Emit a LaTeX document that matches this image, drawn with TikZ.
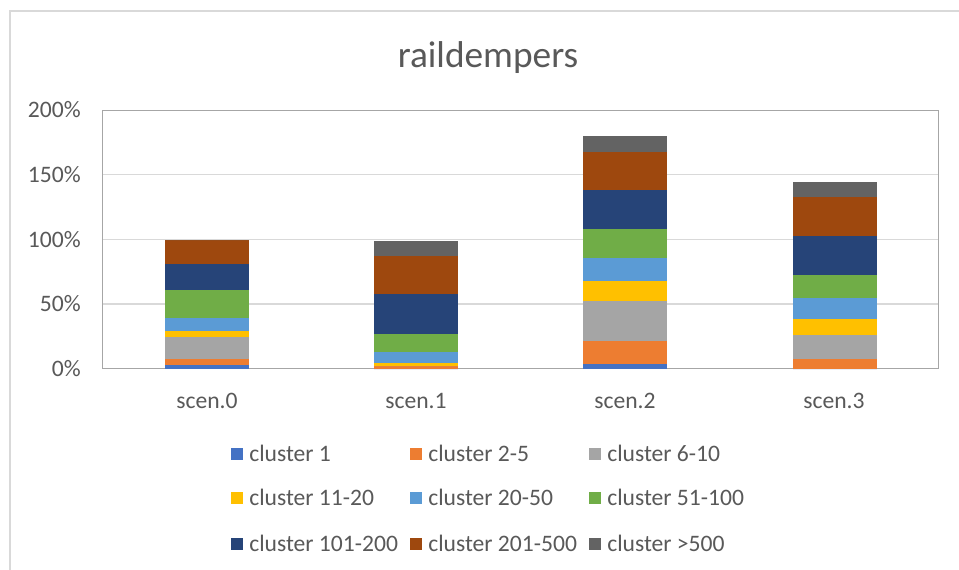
\documentclass[tikz,border=0pt]{standalone}
\usepackage{fontspec}
\setmainfont{Carlito}
\definecolor{c1}{HTML}{4472C4}
\definecolor{c2}{HTML}{ED7D31}
\definecolor{c3}{HTML}{A5A5A5}
\definecolor{c4}{HTML}{FFC000}
\definecolor{c5}{HTML}{5B9BD5}
\definecolor{c6}{HTML}{70AD47}
\definecolor{c7}{HTML}{264478}
\definecolor{c8}{HTML}{9E480E}
\definecolor{c9}{HTML}{636363}
\definecolor{txt}{HTML}{595959}
\definecolor{gridc}{HTML}{D9D9D9}
\definecolor{framec}{HTML}{A6A6A6}
\tikzset{
  lbl/.style={text=txt, inner sep=0pt, font=\fontsize{17.7}{20}\selectfont},
  ttl/.style={text=txt, inner sep=0pt, font=\fontsize{28}{32}\selectfont},
  gridline/.style={draw=gridc, line width=1.1pt},
  plotframe/.style={draw=framec, line width=1.1pt},
  chartframe/.style={draw=gridc, line width=1.5pt},
}
\begin{document}
\begin{tikzpicture}[x=0.75pt,y=-0.75pt]
\useasboundingbox (0,0) rectangle (959,570);
\fill[white] (0,0) rectangle (959,570);
% chart border
\draw[chartframe] (9.5,570) -- (9.5,11) -- (959,11);
% title
\node[ttl, anchor=base] (title) at (488,68) {raildempers};
% gridlines
\foreach \p in {50,100,150}
  \draw[gridline] (102.5,{368.5-1.2925*\p}) -- (938.5,{368.5-1.2925*\p});
\draw[plotframe] (102.5,110.5) rectangle (938.5,368.5);
% y labels
\foreach \p/\t in {0/0\%,50/50\%,100/100\%,150/150\%,200/200\%}
  \node[lbl, anchor=base east] (y\p) at (81,{368.5-1.2925*\p+7.8}) {\t};
% bars
\foreach \nm/\xl/\tops in {
  s0/165/{365.3,358.7,337.3,330.7,318,290,264.3,240,240},
  s1/374/{368.5,365.7,365.7,363,351.7,333.7,294,255.7,241.3},
  s2/583/{364.3,341,301.3,281,258,228.7,190,151.7,136},
  s3/793/{368.5,359.3,334.7,319.3,297.7,274.7,236.3,197.3,182.3}}{
  \foreach \t [count=\i, remember=\t as \prev (initially 368.5)] in \tops
    \fill[c\i] (\xl,\prev) rectangle (\xl+84,\t);
}
% x labels
\node[lbl, anchor=base] (x0) at (207,408) {scen.0};
\node[lbl, anchor=base] (x1) at (416,408) {scen.1};
\node[lbl, anchor=base] (x2) at (625,408) {scen.2};
\node[lbl, anchor=base] (x3) at (834,408) {scen.3};
% legend
\foreach \i/\cx/\cy/\t in {
  1/231/454/cluster 1, 2/410/454/cluster 2-5, 3/589/454/cluster 6-10,
  4/231/498/cluster 11-20, 5/410/498/cluster 20-50, 6/589/498/cluster 51-100,
  7/231/544/cluster 101-200, 8/410/544/cluster 201-500, 9/589/544/cluster >500}{
  \fill[c\i] (\cx,\cy-6) rectangle (\cx+12,\cy+6);
  \node[lbl, anchor=base west] (leg\i) at (\cx+18,\cy+7.5) {\t};
}
\end{tikzpicture}
\end{document}
